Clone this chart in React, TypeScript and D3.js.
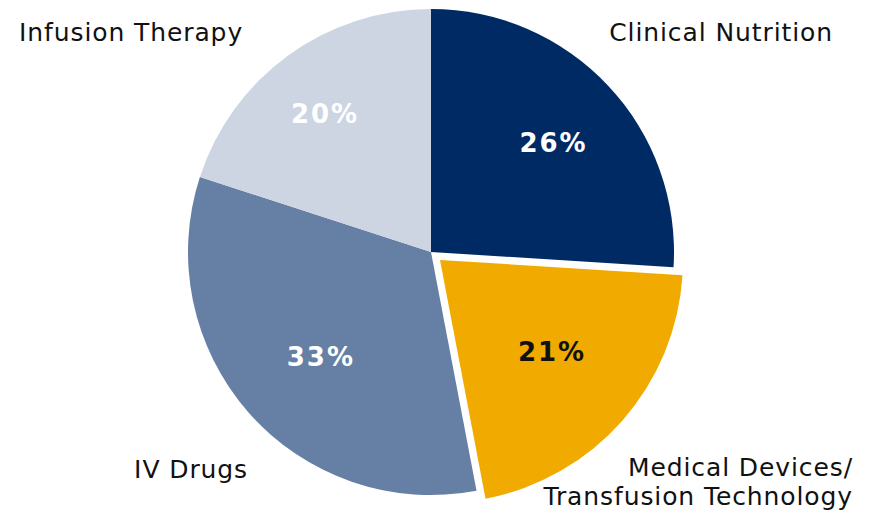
import React from "react";
import * as d3 from "d3";

const categories = ["Clinical Nutrition", "Medical Devices/\nTransfusion Technology", "IV Drugs", "Infusion Therapy"];
const values = [26, 21, 33, 20];
const percentLabels = ["26%", "21%", "33%", "20%"];
const colors = ["#002A64", "#F0AA00", "#667FA5", "#CDD4E2"];
const labelTextColors = ["#FFFFFF", "#111111", "#FFFFFF", "#FFFFFF"];

const W = 870;
const H = 515;
const cx = 431;
const cy = 252;
const R = 243;
const explode = [0, 12, 0, 0];
const labelR = [163.5, 144.5, 153, 174.5];
const labelAngleShift = [1.2, -1.6, -2.0, -1.8];

export default function App() {
  const pie = d3.pie<number>().sort(null).value((d) => d)(values);
  const arc = d3.arc<d3.PieArcDatum<number>>().innerRadius(0).outerRadius(R);
  const font = "'DejaVu Sans', Verdana, sans-serif";

  return (
    <div style={{ position: "absolute", left: 0, top: 0 }}>
      <svg width={W} height={H} style={{ display: "block", background: "#fff" }}>
        <g transform={`translate(${cx},${cy})`}>
          {pie.map((p, i) => {
            const mid = (p.startAngle + p.endAngle) / 2;
            const ox = Math.sin(mid) * explode[i];
            const oy = -Math.cos(mid) * explode[i];
            const la = mid + (labelAngleShift[i] * Math.PI) / 180;
            const lx = Math.sin(la) * labelR[i];
            const ly = -Math.cos(la) * labelR[i];
            return (
              <g key={i} transform={`translate(${ox},${oy})`}>
                <path d={arc(p) || ""} fill={colors[i]} />
                <text
                  x={lx + 1}
                  y={ly}
                  textAnchor="middle"
                  dominantBaseline="central"
                  fontFamily={font}
                  fontWeight="bold"
                  fontSize={26}
                  letterSpacing={2}
                  fill={labelTextColors[i]}
                >
                  {percentLabels[i]}
                </text>
              </g>
            );
          })}
        </g>
        <g fontFamily={font} fontSize={25} fill="#111" letterSpacing={0.9}>
          <text x={833} y={41} textAnchor="end">{categories[0]}</text>
          <text x={853} y={476} textAnchor="end">{categories[1].split("\n")[0]}</text>
          <text x={853} y={505} textAnchor="end">{categories[1].split("\n")[1]}</text>
          <text x={248} y={478} textAnchor="end">{categories[2]}</text>
          <text x={19} y={41} textAnchor="start">{categories[3]}</text>
        </g>
      </svg>
    </div>
  );
}
